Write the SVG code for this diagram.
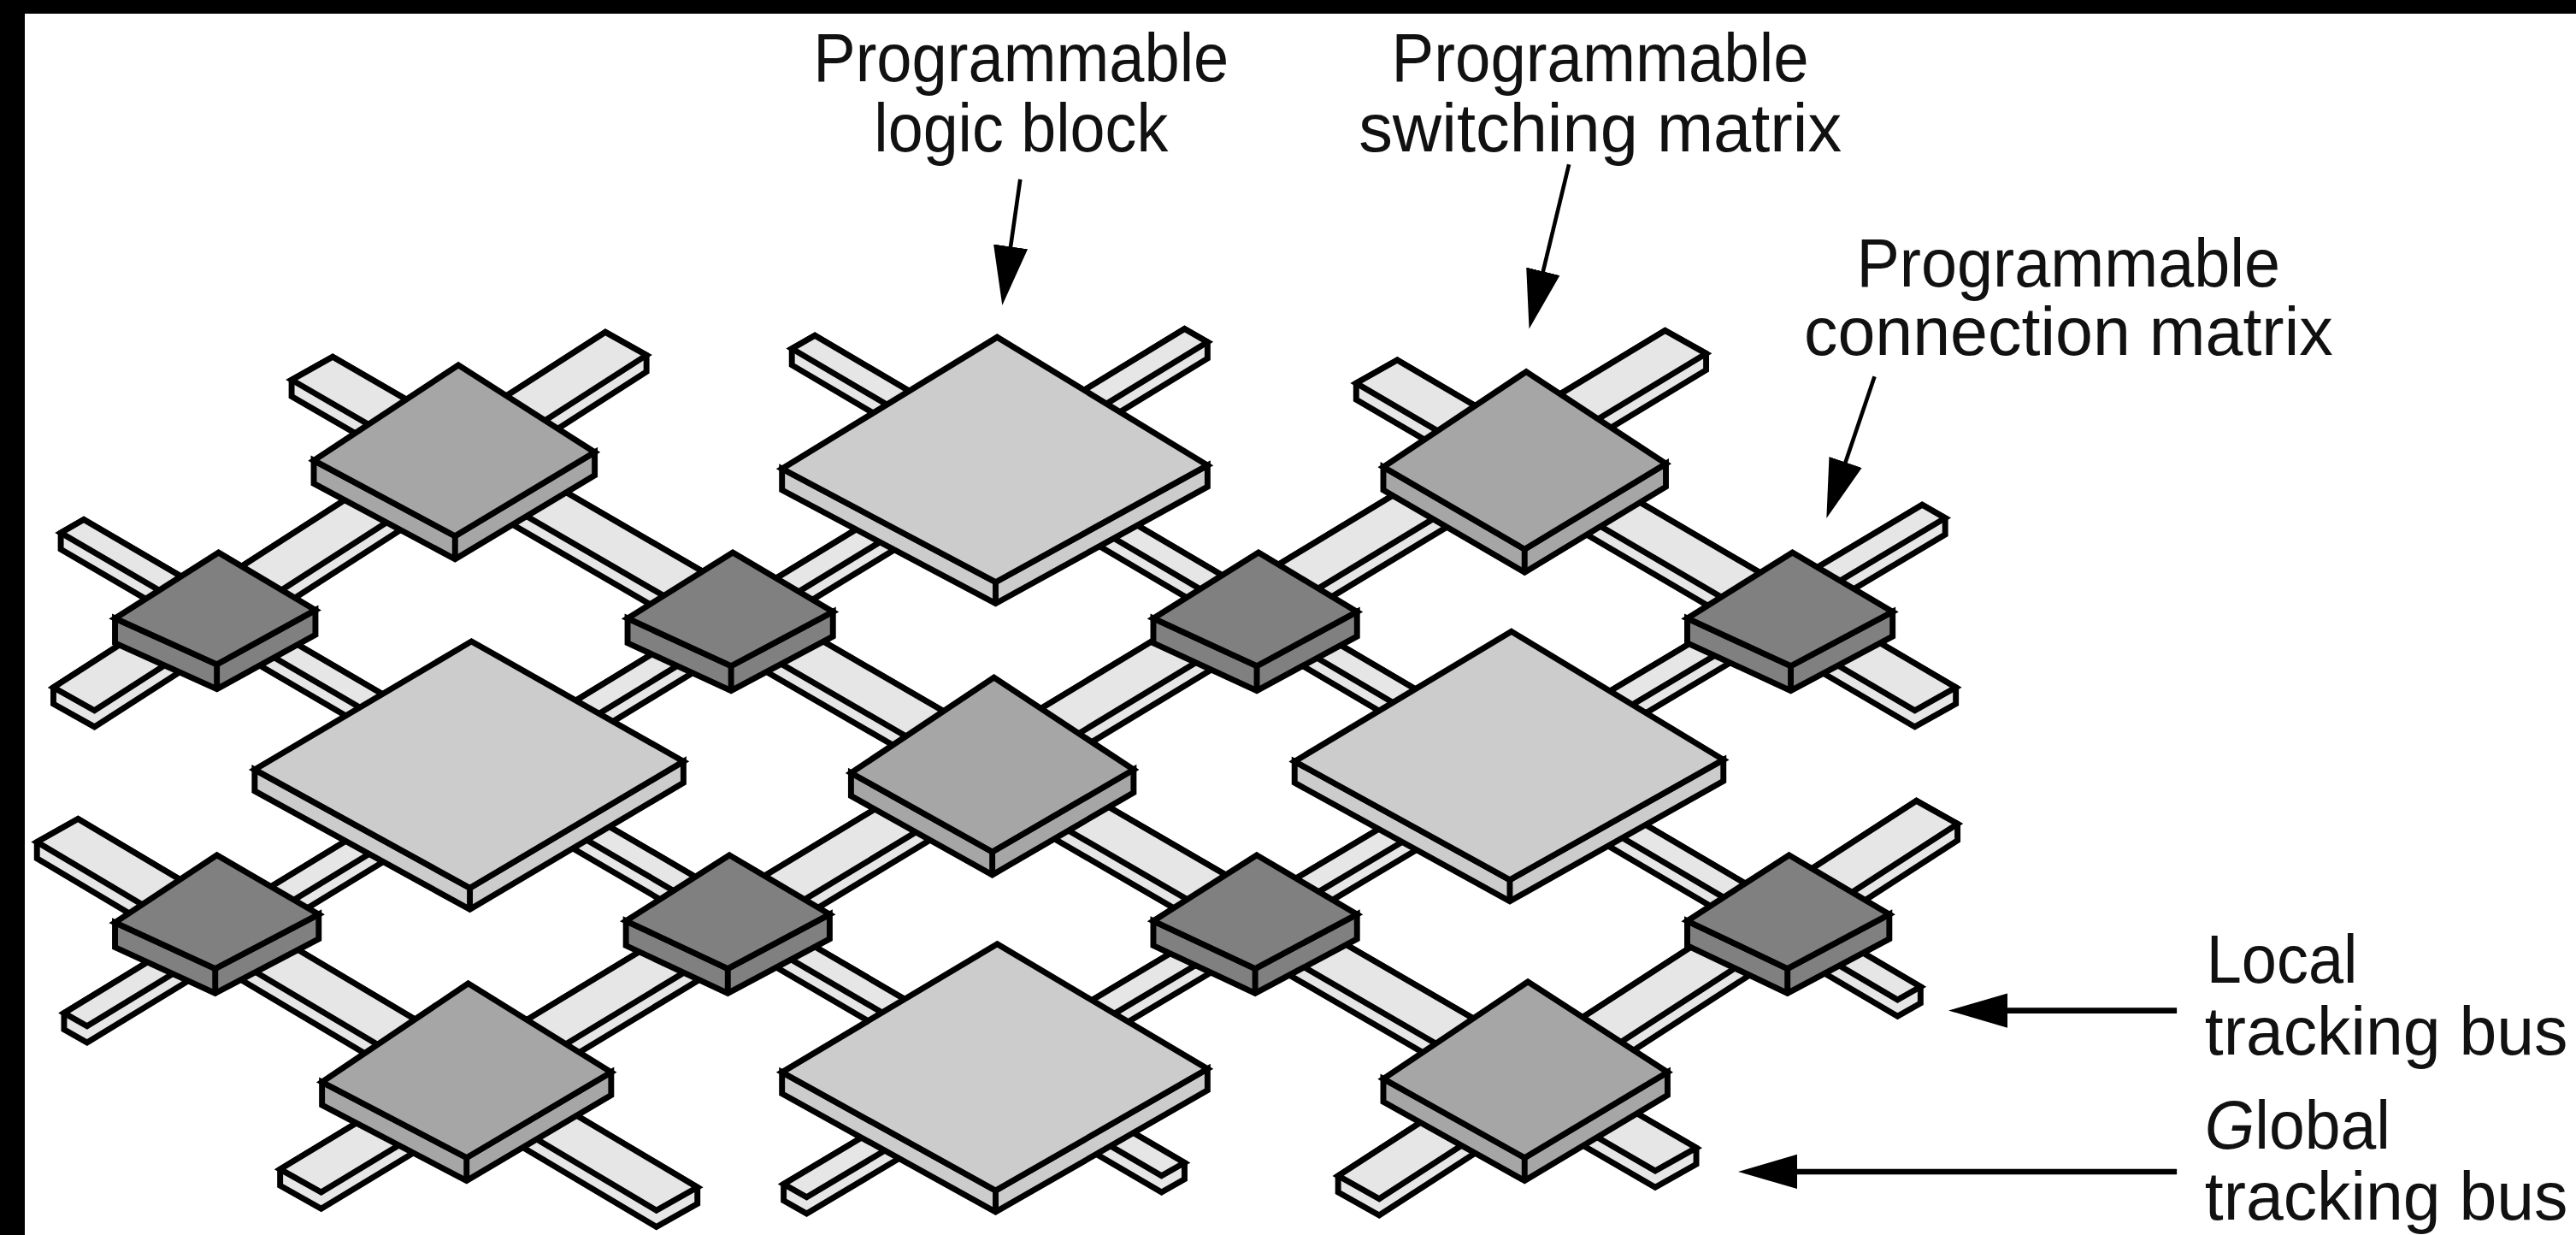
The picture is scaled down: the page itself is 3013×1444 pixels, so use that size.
<svg xmlns="http://www.w3.org/2000/svg" width="3013" height="1444" viewBox="0 0 3013 1444">
<style>
polygon,.d{stroke:#000;stroke-width:3.6;stroke-linejoin:miter;stroke-miterlimit:3}
.bus{fill:#e6e6e6}
.s{fill:#a6a6a6}
.l{fill:#cccccc}
.c{fill:#808080}
.ar{stroke:#000;fill:none}
text{font-family:"Liberation Sans",Arial,sans-serif;font-size:41px;fill:#111}
</style>
<defs>
<marker id="h" markerUnits="userSpaceOnUse" markerWidth="37" markerHeight="24" refX="1" refY="12" orient="auto">
<path d="M0,1.5 L36,12 L0,22.5 Z" fill="#000"/>
</marker>
</defs>
<rect width="3013" height="1444" fill="#000"/>
<rect x="29" y="16" width="2984" height="1428" fill="#fff"/>
<g transform="scale(1.9216 1.9228)">
<g id="connectors">
<g id="global-bus" class="bus">
<polygon points="32.5,418 32.5,428 57.5,442 393.5,226 393.5,216 368.5,202"/><polygon points="32.5,418 57.5,432 393.5,216 368.5,202"/>
<polygon points="170.5,711 170.5,721 195.5,735 1038.5,225 1038.5,215 1013.5,201"/><polygon points="170.5,711 195.5,725 1038.5,215 1013.5,201"/>
<polygon points="814.5,715 814.5,725 839.5,739 1191.5,511 1191.5,501 1166.5,487"/><polygon points="814.5,715 839.5,729 1191.5,501 1166.5,487"/>
<polygon points="202.5,217 177.5,231 177.5,241 1007.5,722 1032.5,708 1032.5,698"/><polygon points="202.5,217 177.5,231 1007.5,712 1032.5,698"/>
<polygon points="850.5,219 825.5,233 825.5,243 1165.5,442 1190.5,428 1190.5,418"/><polygon points="850.5,219 825.5,233 1165.5,432 1190.5,418"/>
<polygon points="47.5,498 22.5,512 22.5,522 399.5,746 424.5,732 424.5,722"/><polygon points="47.5,498 22.5,512 399.5,736 424.5,722"/>
</g>
<g id="local-bus" class="bus">
<polygon points="39,616 39,626 53,634 735,218 735,208 721,200"/><polygon points="39,616 53,624 735,208 721,200"/>
<polygon points="477,720 477,730 491,738 1184,325 1184,315 1170,307"/><polygon points="477,720 491,728 1184,315 1170,307"/>
<polygon points="496,204 482,212 482,222 1155,618 1169,610 1169,600"/><polygon points="496,204 482,212 1155,608 1169,600"/>
<polygon points="51,316 37,324 37,334 707,725 721,717 721,707"/><polygon points="51,316 37,324 707,715 721,707"/>
</g>
<g id="arrows" class="ar">
<line x1="621" y1="109" x2="615" y2="151" stroke-width="2.4" marker-end="url(#h)"/>
<line x1="955" y1="100" x2="939" y2="166" stroke-width="2.4" marker-end="url(#h)"/>
<line x1="1141" y1="229" x2="1123" y2="282" stroke-width="2.4" marker-end="url(#h)"/>
<line x1="1325" y1="614.5" x2="1221" y2="614.5" stroke-width="3.5" marker-end="url(#h)"/>
<line x1="1325" y1="712.5" x2="1093" y2="712.5" stroke-width="3.5" marker-end="url(#h)"/>
</g>
</g>
<g id="logic1" class="l"><polygon points="476,285 476,298 606,367 735,296 735,283 606,354"/><polygon points="607,205 735,283 606,354 476,285"/><line class="d" x1="606" y1="354" x2="606" y2="367"/></g>
<g id="logic2" class="l"><polygon points="155,468 155,481 286,553 416,476 416,463 286,540"/><polygon points="287,390 416,463 286,540 155,468"/><line class="d" x1="286" y1="540" x2="286" y2="553"/></g>
<g id="logic3" class="l"><polygon points="788,463 788,476 919,548 1049,475 1049,462 919,535"/><polygon points="920,384 1049,462 919,535 788,463"/><line class="d" x1="919" y1="535" x2="919" y2="548"/></g>
<g id="logic4" class="l"><polygon points="476,652 476,665 606,737 735,663 735,650 606,724"/><polygon points="607,574 735,650 606,724 476,652"/><line class="d" x1="606" y1="724" x2="606" y2="737"/></g>
<g id="switch1" class="s"><polygon points="191,280 191,294 277,340 362,289 362,275 277,326"/><polygon points="279,222 362,275 277,326 191,280"/><line class="d" x1="277" y1="326" x2="277" y2="340"/></g>
<g id="switch2" class="s"><polygon points="842,284 842,298 928,348 1014,296 1014,282 928,334"/><polygon points="929,226 1014,282 928,334 842,284"/><line class="d" x1="928" y1="334" x2="928" y2="348"/></g>
<g id="switch3" class="s"><polygon points="518,470 518,484 604,532 690,482 690,468 604,518"/><polygon points="605,412 690,468 604,518 518,470"/><line class="d" x1="604" y1="518" x2="604" y2="532"/></g>
<g id="switch4" class="s"><polygon points="196,658 196,672 284,718 372,666 372,652 284,704"/><polygon points="285,598 372,652 284,704 196,658"/><line class="d" x1="284" y1="704" x2="284" y2="718"/></g>
<g id="switch5" class="s"><polygon points="842,656 842,670 928,718 1015,666 1015,652 928,704"/><polygon points="930,597 1015,652 928,704 842,656"/><line class="d" x1="928" y1="704" x2="928" y2="718"/></g>
<g id="conn1" class="c"><polygon points="70,376 70,391 132,419 192,386 192,371 132,404"/><polygon points="133,336 192,371 132,404 70,376"/><line class="d" x1="132" y1="404" x2="132" y2="419"/></g>
<g id="conn2" class="c"><polygon points="382,376 382,391 445,420 507,387 507,372 445,405"/><polygon points="446,336 507,372 445,405 382,376"/><line class="d" x1="445" y1="405" x2="445" y2="420"/></g>
<g id="conn3" class="c"><polygon points="702,376 702,391 765,420 826,387 826,372 765,405"/><polygon points="766,336 826,372 765,405 702,376"/><line class="d" x1="765" y1="405" x2="765" y2="420"/></g>
<g id="conn4" class="c"><polygon points="1027,376 1027,391 1090,420 1152,387 1152,372 1090,405"/><polygon points="1091,336 1152,372 1090,405 1027,376"/><line class="d" x1="1090" y1="405" x2="1090" y2="420"/></g>
<g id="conn5" class="c"><polygon points="70,561 70,576 131,604 194,571 194,556 131,589"/><polygon points="132,520 194,556 131,589 70,561"/><line class="d" x1="131" y1="589" x2="131" y2="604"/></g>
<g id="conn6" class="c"><polygon points="381,560 381,575 443,604 505,571 505,556 443,589"/><polygon points="444,520 505,556 443,589 381,560"/><line class="d" x1="443" y1="589" x2="443" y2="604"/></g>
<g id="conn7" class="c"><polygon points="702,560 702,575 764,604 826,571 826,556 764,589"/><polygon points="765,520 826,556 764,589 702,560"/><line class="d" x1="764" y1="589" x2="764" y2="604"/></g>
<g id="conn8" class="c"><polygon points="1027,560 1027,575 1088,604 1150,571 1150,556 1088,589"/><polygon points="1089,520 1150,556 1088,589 1027,560"/><line class="d" x1="1088" y1="589" x2="1088" y2="604"/></g>
<g id="labels">
<text x="495" y="49.5" textLength="253" lengthAdjust="spacingAndGlyphs">Programmable</text>
<text x="532" y="92" textLength="179" lengthAdjust="spacingAndGlyphs">logic block</text>
<text x="847" y="49.5" textLength="254" lengthAdjust="spacingAndGlyphs">Programmable</text>
<text x="827" y="92" textLength="294" lengthAdjust="spacingAndGlyphs">switching matrix</text>
<text x="1130" y="174" textLength="258" lengthAdjust="spacingAndGlyphs">Programmable</text>
<text x="1098" y="216" textLength="322" lengthAdjust="spacingAndGlyphs">connection matrix</text>
<text x="1343" y="597.5" textLength="92" lengthAdjust="spacingAndGlyphs">Local</text>
<text x="1342" y="641.5" textLength="221" lengthAdjust="spacingAndGlyphs">tracking bus</text>
<text x="1342" y="698.5" textLength="113" lengthAdjust="spacingAndGlyphs"><tspan font-style="italic">G</tspan>lobal</text>
<text x="1342" y="741.5" textLength="221" lengthAdjust="spacingAndGlyphs">tracking bus</text>
</g>
</g>
</svg>
